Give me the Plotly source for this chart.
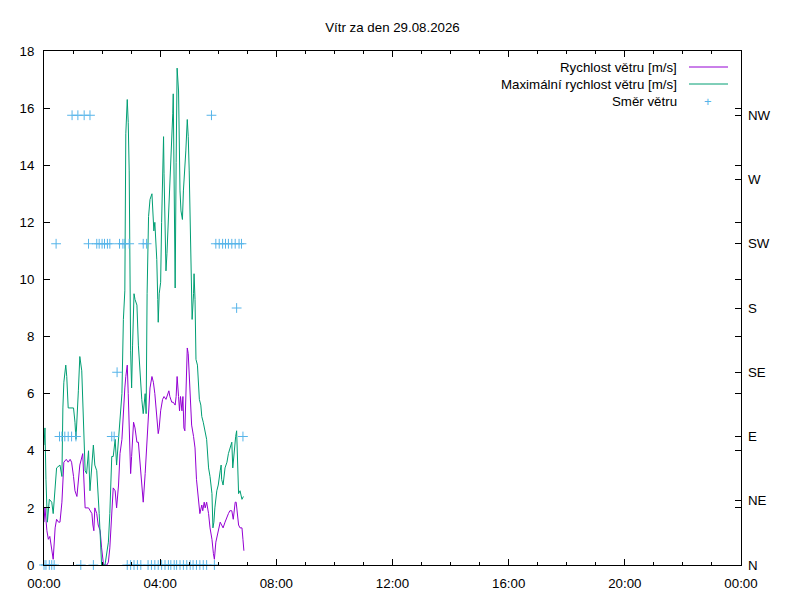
import pandas as pd
import plotly.graph_objects as go

DAY = pd.Timestamp("2026-08-29")
TITLE = "Vítr za den 29.08.2026"

# minutes after midnight + values
speed_minutes = [0, 2, 6, 9, 12, 16, 19, 23, 26, 30, 33, 37, 39, 41, 46, 50, 54, 57, 61, 64, 68, 71, 74, 80, 81,
                 85, 92, 99, 101, 103, 105, 109, 112, 116, 119, 123, 130, 133, 136, 140, 143, 147, 150, 154, 157,
                 161, 164, 167, 169, 172, 174, 176, 179, 181, 185, 188, 192, 195, 198, 202, 205, 209, 212, 216,
                 219, 223, 226, 229, 233, 236, 238, 241, 245, 248, 252, 255, 258, 260, 264, 267, 271, 273, 275,
                 278, 280, 282, 285, 287, 289, 291, 293, 296, 298, 300, 303, 305, 309, 312, 315, 319, 322, 326,
                 328, 331, 333, 336, 340, 343, 347, 350, 352, 355, 358, 361, 364, 367, 370, 374, 378, 381, 384,
                 388, 391, 395, 397, 399, 402, 405, 409, 411, 413]
speed_values = [1.5, 2.0, 1.2, 0.9, 1.0, 0.6, 0.2, 1.3, 1.6, 1.5, 1.5, 2.2, 3.3, 3.6, 3.7, 3.6, 3.7, 3.6, 3.1, 2.6,
                2.4, 3.1, 3.5, 3.9, 3.5, 2.0, 2.0, 1.8, 1.4, 1.2, 2.0, 1.8, 1.4, 1.2, 0.6, 0.0, 0.0, 0.1, 0.6, 1.6,
                2.7, 2.6, 2.0, 2.8, 3.9, 4.4, 5.6, 6.2, 6.6, 7.0, 6.0, 4.4, 3.2, 3.8, 5.0, 4.8, 4.3, 4.3, 3.6, 3.0,
                2.2, 3.2, 4.2, 5.3, 6.2, 6.6, 6.4, 6.0, 5.0, 4.6, 4.8, 5.4, 5.8, 5.9, 5.8, 6.0, 6.1, 5.9, 5.7, 5.7,
                5.6, 5.9, 6.6, 5.9, 5.4, 5.9, 5.4, 5.9, 4.8, 4.7, 5.8, 7.6, 7.4, 6.8, 5.6, 4.9, 4.5, 4.1, 3.0, 2.2,
                1.8, 2.1, 1.9, 2.2, 2.0, 2.2, 1.8, 1.3, 0.9, 0.4, 0.2, 0.8, 1.0, 1.3, 1.5, 1.4, 1.3, 1.5, 1.7, 1.8,
                1.9, 1.9, 1.6, 2.2, 2.2, 1.9, 1.4, 1.3, 1.3, 0.9, 0.5]

gust_minutes = [0, 2, 4, 7, 11, 16, 19, 23, 26, 33, 37, 39, 41, 45, 47, 50, 61, 64, 66, 71, 74, 78, 81, 85, 88,
                92, 95, 99, 102, 105, 109, 114, 119, 126, 133, 136, 140, 143, 147, 150, 154, 157, 161, 164, 167,
                169, 172, 174, 176, 179, 181, 183, 186, 188, 192, 195, 198, 202, 205, 209, 211, 213, 216, 219,
                223, 225, 227, 229, 233, 235, 236, 238, 241, 243, 245, 247, 248, 250, 252, 254, 257, 260, 264,
                266, 267, 269, 271, 273, 274, 275, 278, 279, 281, 283, 286, 288, 290, 293, 296, 298, 300, 303,
                305, 306, 309, 310, 312, 314, 317, 319, 321, 324, 326, 329, 333, 336, 340, 343, 347, 349, 351,
                353, 357, 360, 364, 366, 367, 370, 374, 378, 381, 384, 388, 390, 393, 396, 398, 400, 402, 405,
                409, 412]
gust_values = [4.2, 4.8, 3.0, 1.5, 2.3, 2.2, 1.8, 2.9, 3.4, 3.5, 3.1, 5.5, 6.4, 7.0, 6.6, 5.5, 5.5, 5.0, 4.4, 6.1,
               7.3, 6.8, 5.4, 3.3, 3.2, 4.0, 2.6, 3.5, 4.2, 3.5, 3.3, 1.8, 0.0, 0.0, 0.8, 1.8, 3.8, 3.8, 4.4, 3.5,
               4.4, 5.3, 6.0, 8.6, 9.6, 15.1, 16.3, 15.5, 13.8, 7.5, 6.2, 7.7, 9.5, 9.3, 9.1, 7.7, 6.8, 5.8, 5.3,
               6.0, 5.3, 9.5, 12.2, 12.8, 13.0, 12.3, 11.7, 12.0, 10.7, 9.3, 8.5, 9.5, 9.9, 12.0, 13.9, 15.0, 13.7,
               11.3, 10.3, 10.9, 12.1, 13.2, 14.5, 15.8, 16.5, 12.9, 9.7, 14.1, 15.5, 17.4, 16.6, 14.9, 13.1, 12.4,
               12.1, 13.1, 13.9, 14.5, 15.6, 15.0, 13.8, 11.3, 9.3, 8.6, 9.5, 10.2, 9.3, 7.2, 7.0, 6.2, 5.8, 5.6,
               5.2, 5.0, 4.6, 4.4, 3.4, 3.1, 2.5, 1.3, 1.5, 2.0, 2.6, 2.8, 3.3, 3.5, 3.0, 2.8, 3.4, 3.6, 3.9, 4.1,
               4.3, 3.4, 4.1, 4.5, 4.7, 3.0, 2.5, 2.6, 2.3, 2.4]

dir_minutes = [0, 4, 11, 16, 21, 25, 32, 37, 43, 50, 57, 58, 66, 70, 76, 83, 92, 95, 102, 109, 114, 120, 125, 131,
               136, 140, 145, 151, 156, 163, 167, 172, 176, 179, 186, 193, 200, 205, 212, 215, 222, 229, 236, 243,
               250, 257, 262, 269, 274, 281, 288, 295, 302, 308, 315, 322, 329, 336, 346, 352, 355, 362, 369, 375,
               381, 388, 395, 398, 403, 408, 411]
dir_labels = ["N", "N", "N", "N", "N", "SW", "E", "E", "E", "E", "E", "NW", "E", "NW", "N", "NW", "SW", "NW", "N",
              "SW", "SW", "SW", "SW", "SW", "SW", "E", "E", "SE", "SW", "SW", "SW", "N", "SW", "N", "N", "N", "N",
              "SW", "SW", "N", "N", "N", "N", "N", "N", "N", "N", "N", "N", "N", "N", "N", "N", "N", "N", "N", "N",
              "N", "NW", "N", "SW", "SW", "SW", "SW", "SW", "SW", "SW", "S", "SW", "SW", "E"]

compass = ["N", "NE", "E", "SE", "S", "SW", "W", "NW"]
compass_vals = [i * 2.25 for i in range(len(compass))]

PURPLE = "#9400D3"
GREEN = "#009E73"
BLUE = "#56B4E9"
FONT = "Liberation Sans, Arial, sans-serif"
FS = 13.3

# page body has an 8px margin, so the figure is a bit smaller and shifted
W, H, OFF = 792, 584, 8
PL, PR, PT, PB = 44, 741, 51, 565  # plot box in screen pixels


def to_time(minutes):
    return DAY + pd.to_timedelta(minutes, unit="min")


fig = go.Figure()
fig.add_trace(go.Scatter(x=to_time(speed_minutes), y=speed_values, mode="lines",
                         line=dict(color=PURPLE, width=1), name="Rychlost větru [m/s]"))
fig.add_trace(go.Scatter(x=to_time(gust_minutes), y=gust_values, mode="lines",
                         line=dict(color=GREEN, width=1), name="Maximální rychlost větru [m/s]"))
fig.add_trace(go.Scatter(x=to_time(dir_minutes), y=[compass_vals[compass.index(d)] for d in dir_labels],
                         mode="markers", yaxis="y2", cliponaxis=False,
                         marker=dict(symbol="cross-thin", size=7, line=dict(color=BLUE, width=1)),
                         name="Směr větru"))

# gnuplot-like key: text right aligned, sample on the right
key_rows = [("Rychlost větru [m/s]", PURPLE, "line"),
            ("Maximální rychlost větru [m/s]", GREEN, "line"),
            ("Směr větru", BLUE, "point")]
pw, ph = PR - PL, PB - PT
for i, (label, color, kind) in enumerate(key_rows):
    ypx = 67 + i * 17
    yp = 1 - (ypx - PT) / ph
    fig.add_annotation(x=(679 - PL) / pw, y=yp, xref="paper", yref="paper", text=label, showarrow=False,
                       xanchor="right", yanchor="middle", font=dict(size=FS, color="black", family=FONT))
    if kind == "line":
        fig.add_shape(type="line", xref="paper", yref="paper", x0=(689 - PL) / pw, x1=(728 - PL) / pw,
                      y0=yp, y1=yp, line=dict(color=color, width=1))
    else:
        fig.add_annotation(x=(708 - PL) / pw, y=yp, xref="paper", yref="paper", text="+", showarrow=False,
                           xanchor="center", yanchor="middle", font=dict(size=13, color=color, family=FONT))

fig.update_layout(
    width=W, height=H,
    margin=dict(l=PL - OFF, r=W - (PR - OFF), t=PT - OFF, b=H - (PB - OFF), autoexpand=False),
    paper_bgcolor="white", plot_bgcolor="white",
    showlegend=False,
    font=dict(family=FONT, size=FS, color="black"),
    title=dict(text=TITLE, x=(392.5 - OFF) / W, xanchor="center", y=1 - (27 - OFF) / H, yanchor="middle",
               font=dict(size=FS, family=FONT)),
    xaxis=dict(range=[DAY, DAY + pd.Timedelta(days=1)], tickformat="%H:%M", dtick=4 * 3600 * 1000,
               tick0=DAY, ticks="inside", ticklen=6, tickcolor="black", showline=True, linecolor="black",
               linewidth=1, mirror="ticks", showgrid=False, zeroline=False, ticklabelstandoff=6,
               automargin=False,
               minor=dict(dtick=3600 * 1000, ticks="inside", ticklen=3, tickcolor="black")),
    yaxis=dict(range=[0, 18], dtick=2, ticks="inside", ticklen=6, tickcolor="black", showline=True,
               linecolor="black", linewidth=1, mirror="ticks", showgrid=False, zeroline=False,
               ticklabelstandoff=6, automargin=False),
    yaxis2=dict(range=[0, 18], overlaying="y", side="right", tickvals=compass_vals, ticktext=compass,
                ticks="inside", ticklen=6, tickcolor="black", showgrid=False, zeroline=False,
                showline=False, ticklabelstandoff=6, automargin=False),
)

fig.write_html("out.html")
